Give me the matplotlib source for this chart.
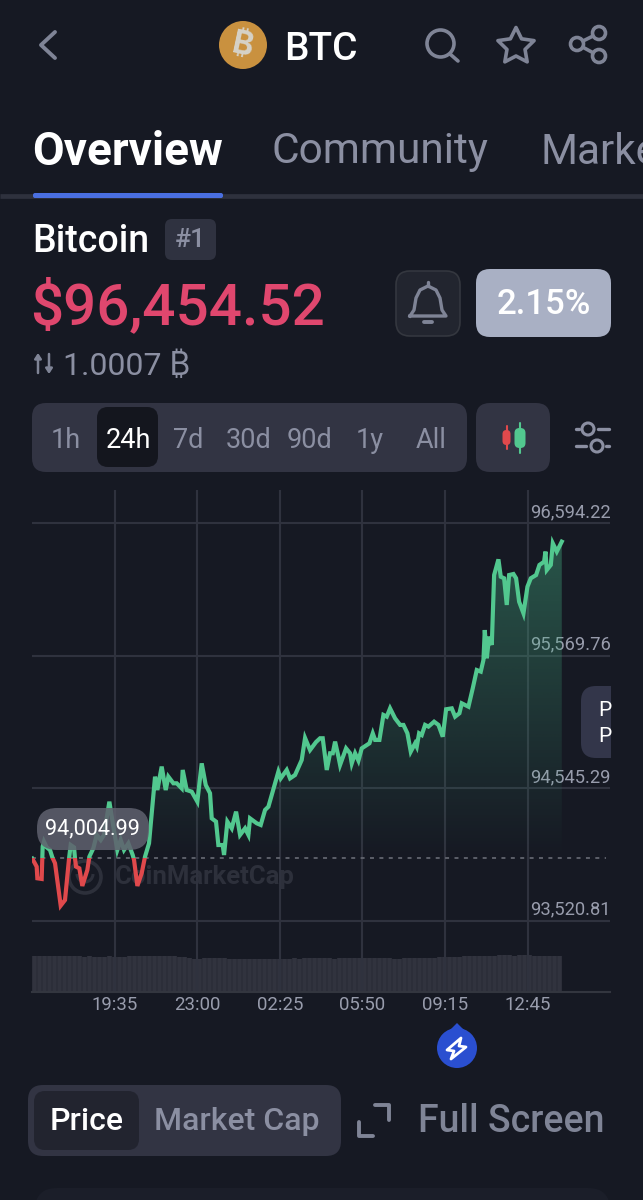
import numpy as np
import matplotlib
matplotlib.use('Agg')
import matplotlib.pyplot as plt
from matplotlib.patches import FancyBboxPatch, Circle, Polygon, Rectangle, Arc
from matplotlib.transforms import ScaledTranslation

plt.rcParams['font.family'] = ['Roboto', 'Inter', 'DejaVu Sans']

# ---- data ----
minutes = [0.8,11.6,13.3,24,26.5,29.8,36.5,44.7,50.5,57.2,71.3,82,92,96.1,104.4,106.9,109.4,117.6,125,137.5,
           142.5,152.4,160.7,170.7,178.9,192.2,202.1,212,220.3,228.6,239.4,250.2,253.5,261.8,272.5,280.8,290.7,
           305.7,311.5,322.2,332.2,338.8,351.2,359.5,371.9,374.4,384.3,396.8,410.8,421.6,431.6,442.3,446.5,457.2,
           463,473.8,477.1,485.4,496.2,507,516.9,529.3,537.6,541.7,558.3,568.2,579,587.3,603.8,612.1,617.9,632.8,
           641.1,653.5,670.1,678.4,690.8,705.7,715.7,722.3,732.3,740.5,747.2,753,761.3,765.4,780.3,790.2,794.4,
           802.7,811,819.2,838.3,846.6,852.4,863.1,873.1,881.4,889.6,902,914.5,922.8,932.7,941,951.8,955.9,961.7,
           968.3,976.6,984.9,999,1009.8,1020.5,1028.8,1042.9,1051.2,1061.9,1067.7,1084.3,1095,1105,1114.9,1121.6,
           1124.9,1129.9,1135.7,1142.3,1148.1,1158.8,1164.6,1172.9,1179.5,1185.3,1196.1,1202.7,1210.2,1221,1230.9,
           1239.2,1252.4,1260.7,1272.3,1275.6,1279,1288.9,1293.9,1303.8,1316.2]
prices = [94001,93939,93849,93844,94094,94132,94088,94068,94011,93965,93638,93681,94001,94106,94088,94001,93939,
          93926,93790,93913,94016,94081,94184,94145,94184,94441,94248,94068,94145,94068,94119,94029,93991,93790,
          93888,94016,94119,94634,94531,94712,94531,94634,94583,94583,94544,94686,94531,94518,94441,94737,94570,
          94506,94312,94287,94106,94106,94029,94287,94235,94364,94184,94235,94184,94312,94274,94261,94377,94402,
          94583,94673,94621,94686,94621,94647,94763,94933,94840,94902,94931,94931,94686,94815,94815,94905,94789,
          94725,94853,94815,94737,94815,94758,94853,94892,94969,94918,94918,95111,95098,95162,95085,95034,95034,
          94969,94828,94892,94866,94969,94956,95034,95021,95059,95034,94943,95155,95162,95098,95124,95201,95175,
          95317,95458,95446,95536,95767,95549,95716,95652,96192,96313,96179,96167,95961,96192,96200,96167,95986,
          95896,96102,96167,96192,96270,96295,96373,96231,96270,96437,96373,96450]
baseline_price = 94004.99
volume = [36,36,36,36.5,36,36,36.5,36.5,36,36,35.5,36,35.5,35.5,35.5,36,35.5,35.5,35.5,36,36,36,36,36,36,36,36,36,
          36,35.5,35.5,34.5,33.5,33.5,34,34,34,34,34,33.5,33.5,33.5,33.5,33.5,33.5,33,33,33.5,33.5,33.5,33.5,33.5,
          34,33.5,34,34,34,34,34,34,33.5,34,34,34,34,34,34,34,34,34,34,34,33.5,33.5,34,34,34,34,34.5,34.5,34.5,35,
          35,35,35.5,35.5,36,36,36,36.5,36.5,36.5,36.5,37,37,37,36.5,37,37,37,36.5,36.5,36.5,36.5,36.5,36.5]
volume_step = 12.43
price_ticks = [96594.22, 95569.76, 94545.29, 93520.81]
price_labels = ['96,594.22', '95,569.76', '94,545.29', '93,520.81']
time_ticks = [206, 411, 616, 821, 1026, 1232]
time_labels = ['19:35', '23:00', '02:25', '05:50', '09:15', '12:45']
ranges = ['1h', '24h', '7d', '30d', '90d', '1y', 'All']

BG = '#161923'
GRID = '#2f323e'
LABEL = '#989cac'
MUTED = '#8b8fa2'
ICON = '#7f8496'
GREEN = '#52c88f'
RED = '#e0494c'

fig = plt.figure(figsize=(6.43, 12.0), dpi=100, facecolor=BG)

ui = fig.add_axes([0, 0, 1, 1], zorder=1)
ui.set_xlim(0, 643); ui.set_ylim(1200, 0); ui.axis('off')
top = fig.add_axes([0, 0, 1, 1], zorder=5)
top.set_xlim(0, 643); top.set_ylim(1200, 0); top.axis('off'); top.patch.set_alpha(0)


def box(a, x0, y0, x1, y1, r, fc, ec='none', lw=0, alpha=None, z=2):
    p = FancyBboxPatch((x0 + r, y0 + r), x1 - x0 - 2 * r, y1 - y0 - 2 * r,
                       boxstyle=f'round,pad={r},rounding_size={r}', fc=fc, ec=ec, lw=lw, alpha=alpha, zorder=z)
    a.add_patch(p)
    return p


def txt(a, x, y, s, size, color, ha='left', weight='normal', z=4, **kw):
    return a.text(x, y + 2, s, fontsize=size, color=color, ha=ha, va='center', fontweight=weight, zorder=z, **kw)


def stroke(a, xs, ys, color=ICON, lw=2.6, z=4):
    a.plot(xs, ys, color=color, lw=lw, solid_capstyle='round', solid_joinstyle='round', zorder=z)


# ---- header ----
stroke(ui, [55, 41, 55], [32, 45, 58], '#7f8496', 2.8)
ui.add_patch(Circle((243, 45), 24, fc='#c9913f', ec='none', zorder=2))
txt(ui, 243, 43, '₿', 23, '#d6d2c8', ha='center', weight='bold', rotation=-12)
txt(ui, 284, 47, 'BTC', 28, 'white', weight='medium')
ui.add_patch(Circle((440.5, 43.5), 13.5, fc='none', ec=ICON, lw=2.6, zorder=4))
stroke(ui, [450, 458], [54, 61])
star_t = np.deg2rad(np.arange(0, 360, 36) - 90)
star_r = np.array([19, 9.5] * 5)
ui.add_patch(Polygon(np.c_[516 + star_r * np.cos(star_t), 46.5 + star_r * np.sin(star_t)], closed=True,
                     fc='none', ec=ICON, lw=2.6, joinstyle='round', zorder=4))
stroke(ui, [599, 577, 599], [33, 44, 56])
for cx, cy in [(599, 33), (577, 44), (599, 56)]:
    ui.add_patch(Circle((cx, cy), 6.5, fc=BG, ec=ICON, lw=2.6, zorder=5))

txt(ui, 32, 150, 'Overview', 33, 'white', weight='bold')
txt(ui, 272, 150, 'Community', 30.5, MUTED)
txt(ui, 540, 150, 'Marke', 30.5, MUTED)
ui.plot([0, 643], [195.5, 195.5], color='#2e313d', lw=3.4, solid_capstyle='butt', zorder=2)
box(ui, 33, 193, 223, 198, 2, '#4a6fe0', z=3)

# ---- coin block ----
txt(ui, 32, 239, 'Bitcoin', 27, 'white', weight='medium')
box(ui, 165, 219, 216, 260, 7, '#2f3240')
txt(ui, 190.5, 238, '#1', 19, MUTED, ha='center', weight='medium')
txt(ui, 30, 306, '$96,454.52', 42, '#e0476e', weight='medium')
box(ui, 396, 271, 460, 336, 14, '#22252f', ec='#34373f', lw=1.2)
bell_x = [410, 414, 416, 420, 428, 436, 440, 442, 446, 410]
bell_y = [316, 310, 298, 290, 286, 290, 298, 310, 316, 316]
ui.plot(bell_x, bell_y, color=ICON, lw=2.4, solid_joinstyle='round', zorder=4)
stroke(ui, [428, 428], [282, 286], ICON, 2.4)
stroke(ui, [424, 432], [321.5, 321.5], ICON, 2.8)
box(ui, 476, 269, 611, 337, 14, '#a9b0c4')
txt(ui, 543.5, 302, '2.15%', 25, 'white', ha='center', weight='medium')
ui.annotate('', xy=(38, 353), xytext=(38, 373), arrowprops=dict(arrowstyle='-|>,head_width=0.2,head_length=0.3', color='#7f8496', lw=1.8, shrinkA=0, shrinkB=0))
ui.annotate('', xy=(49, 374), xytext=(49, 354), arrowprops=dict(arrowstyle='-|>,head_width=0.2,head_length=0.3', color='#7f8496', lw=1.8, shrinkA=0, shrinkB=0))
txt(ui, 63, 364, '1.0007 ₿', 23, MUTED)

# ---- range selector ----
box(ui, 32, 403, 467, 472, 14, '#323443')
box(ui, 97, 407, 158, 467, 11, '#14161e', z=3)
for label, cx in zip(ranges, [66, 128, 188, 249, 309, 370, 431]):
    txt(ui, cx, 438, label, 19.5, 'white' if label == '24h' else MUTED, ha='center')
box(ui, 476, 403, 550, 472, 14, '#323443')
stroke(ui, [506.5, 506.5], [426, 449], RED, 1.5)
box(ui, 502.5, 430, 510.5, 445, 4, RED, z=5)
stroke(ui, [520, 520], [423, 453], GREEN, 1.5)
box(ui, 514.5, 428, 525.5, 448, 5, GREEN, z=5)
stroke(ui, [576, 579], [429, 429], MUTED, 2.4)
stroke(ui, [598, 609], [429, 429], MUTED, 2.4)
ui.add_patch(Circle((588, 429), 6, fc=BG, ec=MUTED, lw=2.2, zorder=4))
stroke(ui, [576, 586], [446, 446], MUTED, 2.4)
stroke(ui, [606, 609], [446, 446], MUTED, 2.4)
ui.add_patch(Circle((597, 446), 6, fc=BG, ec=MUTED, lw=2.2, zorder=4))

# ---- watermark ----
WM = '#2d303b'
ui.add_patch(Circle((85, 877), 16, fc='none', ec=WM, lw=2.6, zorder=2))
ui.add_patch(Arc((85, 874), 16, 16, theta1=0, theta2=180, ec=WM, lw=2.2, zorder=2))
txt(ui, 115, 875, 'CoinMarketCap', 18.5, WM, weight='bold', z=2)

# ---- chart ----
ax = fig.add_axes([32 / 643, (1200 - 992) / 1200, 578 / 643, 502 / 1200], zorder=3)
ax.patch.set_alpha(0)
for side in ['top', 'left', 'right']:
    ax.spines[side].set_visible(False)
ax.spines['bottom'].set_color('#33363f')
ax.spines['bottom'].set_linewidth(1.5)
ax.yaxis.tick_right()
ax.set_yticks(price_ticks, price_labels)
ax.set_xticks(time_ticks, time_labels)
ax.tick_params(axis='y', length=0, pad=0, labelsize=13.2, labelcolor=LABEL)
ax.tick_params(axis='x', length=0, pad=3, labelsize=13.4, labelcolor=LABEL)
for lab in ax.get_yticklabels():
    lab.set_ha('right')
    lab.set_va('bottom')
    lab.set_transform(lab.get_transform() + ScaledTranslation(0.01, 0.02, fig.dpi_scale_trans))
ax.grid(True, color=GRID, lw=1.5, zorder=1)
ax.set_axisbelow(True)

# gradient under the price line
shade = ax.fill_between(minutes, prices, baseline_price, color='none', lw=0)
rgba = np.zeros((256, 2, 4))
rgba[..., :3] = matplotlib.colors.to_rgb('#47b888')
rgba[..., 3] = np.linspace(0.42, 0.0, 256)[:, None]
img = ax.imshow(rgba, extent=[0, minutes[-1], baseline_price, 96700], origin='upper', aspect='auto', zorder=2)
img.set_clip_path(shade.get_paths()[0], transform=ax.transData)
ax.set_xlim(0, 1436)
ax.set_ylim(92970.5, 96849)

ax.plot([0, 1426], [baseline_price, baseline_price], color='#62656f', lw=1.3, dashes=(2.2, 3.0), zorder=3)

# price line, split in two colours at the opening price
green_line, = ax.plot(minutes, prices, color=GREEN, lw=3.0, solid_joinstyle='miter', zorder=4)
red_line, = ax.plot(minutes, prices, color=RED, lw=3.0, solid_joinstyle='miter', zorder=4)
green_line.set_clip_path(Rectangle((0, baseline_price), 1436, 3000, transform=ax.transData))
red_line.set_clip_path(Rectangle((0, 92970), 1436, baseline_price - 92970, transform=ax.transData))

# volume strip
vax = fig.add_axes([32 / 643, (1200 - 992) / 1200, 578 / 643, 37 / 1200], zorder=2)
vax.patch.set_alpha(0)
vax.set_xlim(0, 1436)
vax.set_ylim(0, 37)
vax.axis('off')
vol_x = np.arange(len(volume)) * volume_step + volume_step / 2
vax.bar(vol_x, volume, width=volume_step, color='#2c2e39', lw=0)
vax.bar(vol_x, volume, width=volume_step * 0.6, color='#31333e', lw=0)

# ---- overlays ----
box(top, 37, 808, 149, 850, 20, '#5f616e', alpha=0.86, z=2)
txt(top, 92.5, 827, '94,004.99', 15.6, 'white', ha='center', z=3)
pill = box(top, 581, 686, 660, 758, 15, '#33364a', z=2)
clip = Rectangle((0, 0), 611, 1200, transform=top.transData)
pill.set_clip_path(clip)
for py in [708, 735]:
    tp = txt(top, 598, py, 'P', 15, 'white', z=3)
    tp.set_clip_path(clip)

# ---- lightning marker ----
ui.add_patch(Circle((457, 1048), 20, fc='#2a4fd0', ec='none', zorder=2))
ui.add_patch(Polygon([[450, 1030], [457, 1023], [464, 1030]], closed=True, fc='#2a4fd0', ec='none', zorder=2))
ui.add_patch(Polygon([[461, 1038], [447, 1050], [454, 1051], [451, 1059], [466, 1047], [459, 1046]], closed=True,
                     fc='#2a4fd0', ec='white', lw=2.0, joinstyle='round', zorder=3))

# ---- bottom controls ----
box(ui, 28, 1085, 341, 1156, 15, '#323443')
box(ui, 34, 1091, 139, 1150, 11, '#22242f', z=3)
txt(ui, 87, 1120, 'Price', 23, 'white', ha='center', weight='medium')
txt(ui, 237, 1120, 'Market Cap', 23, MUTED, ha='center', weight='medium')
stroke(ui, [375, 389, 389], [1105, 1105, 1120], ICON, 2.8)
stroke(ui, [359, 359, 373], [1122, 1136, 1136], ICON, 2.8)
txt(ui, 418, 1120, 'Full Screen', 27, ICON, weight='medium')
box(ui, 35, 1188, 610, 1260, 22, '#1b1e29')

fig.savefig('out.png', dpi=100, facecolor=BG)
